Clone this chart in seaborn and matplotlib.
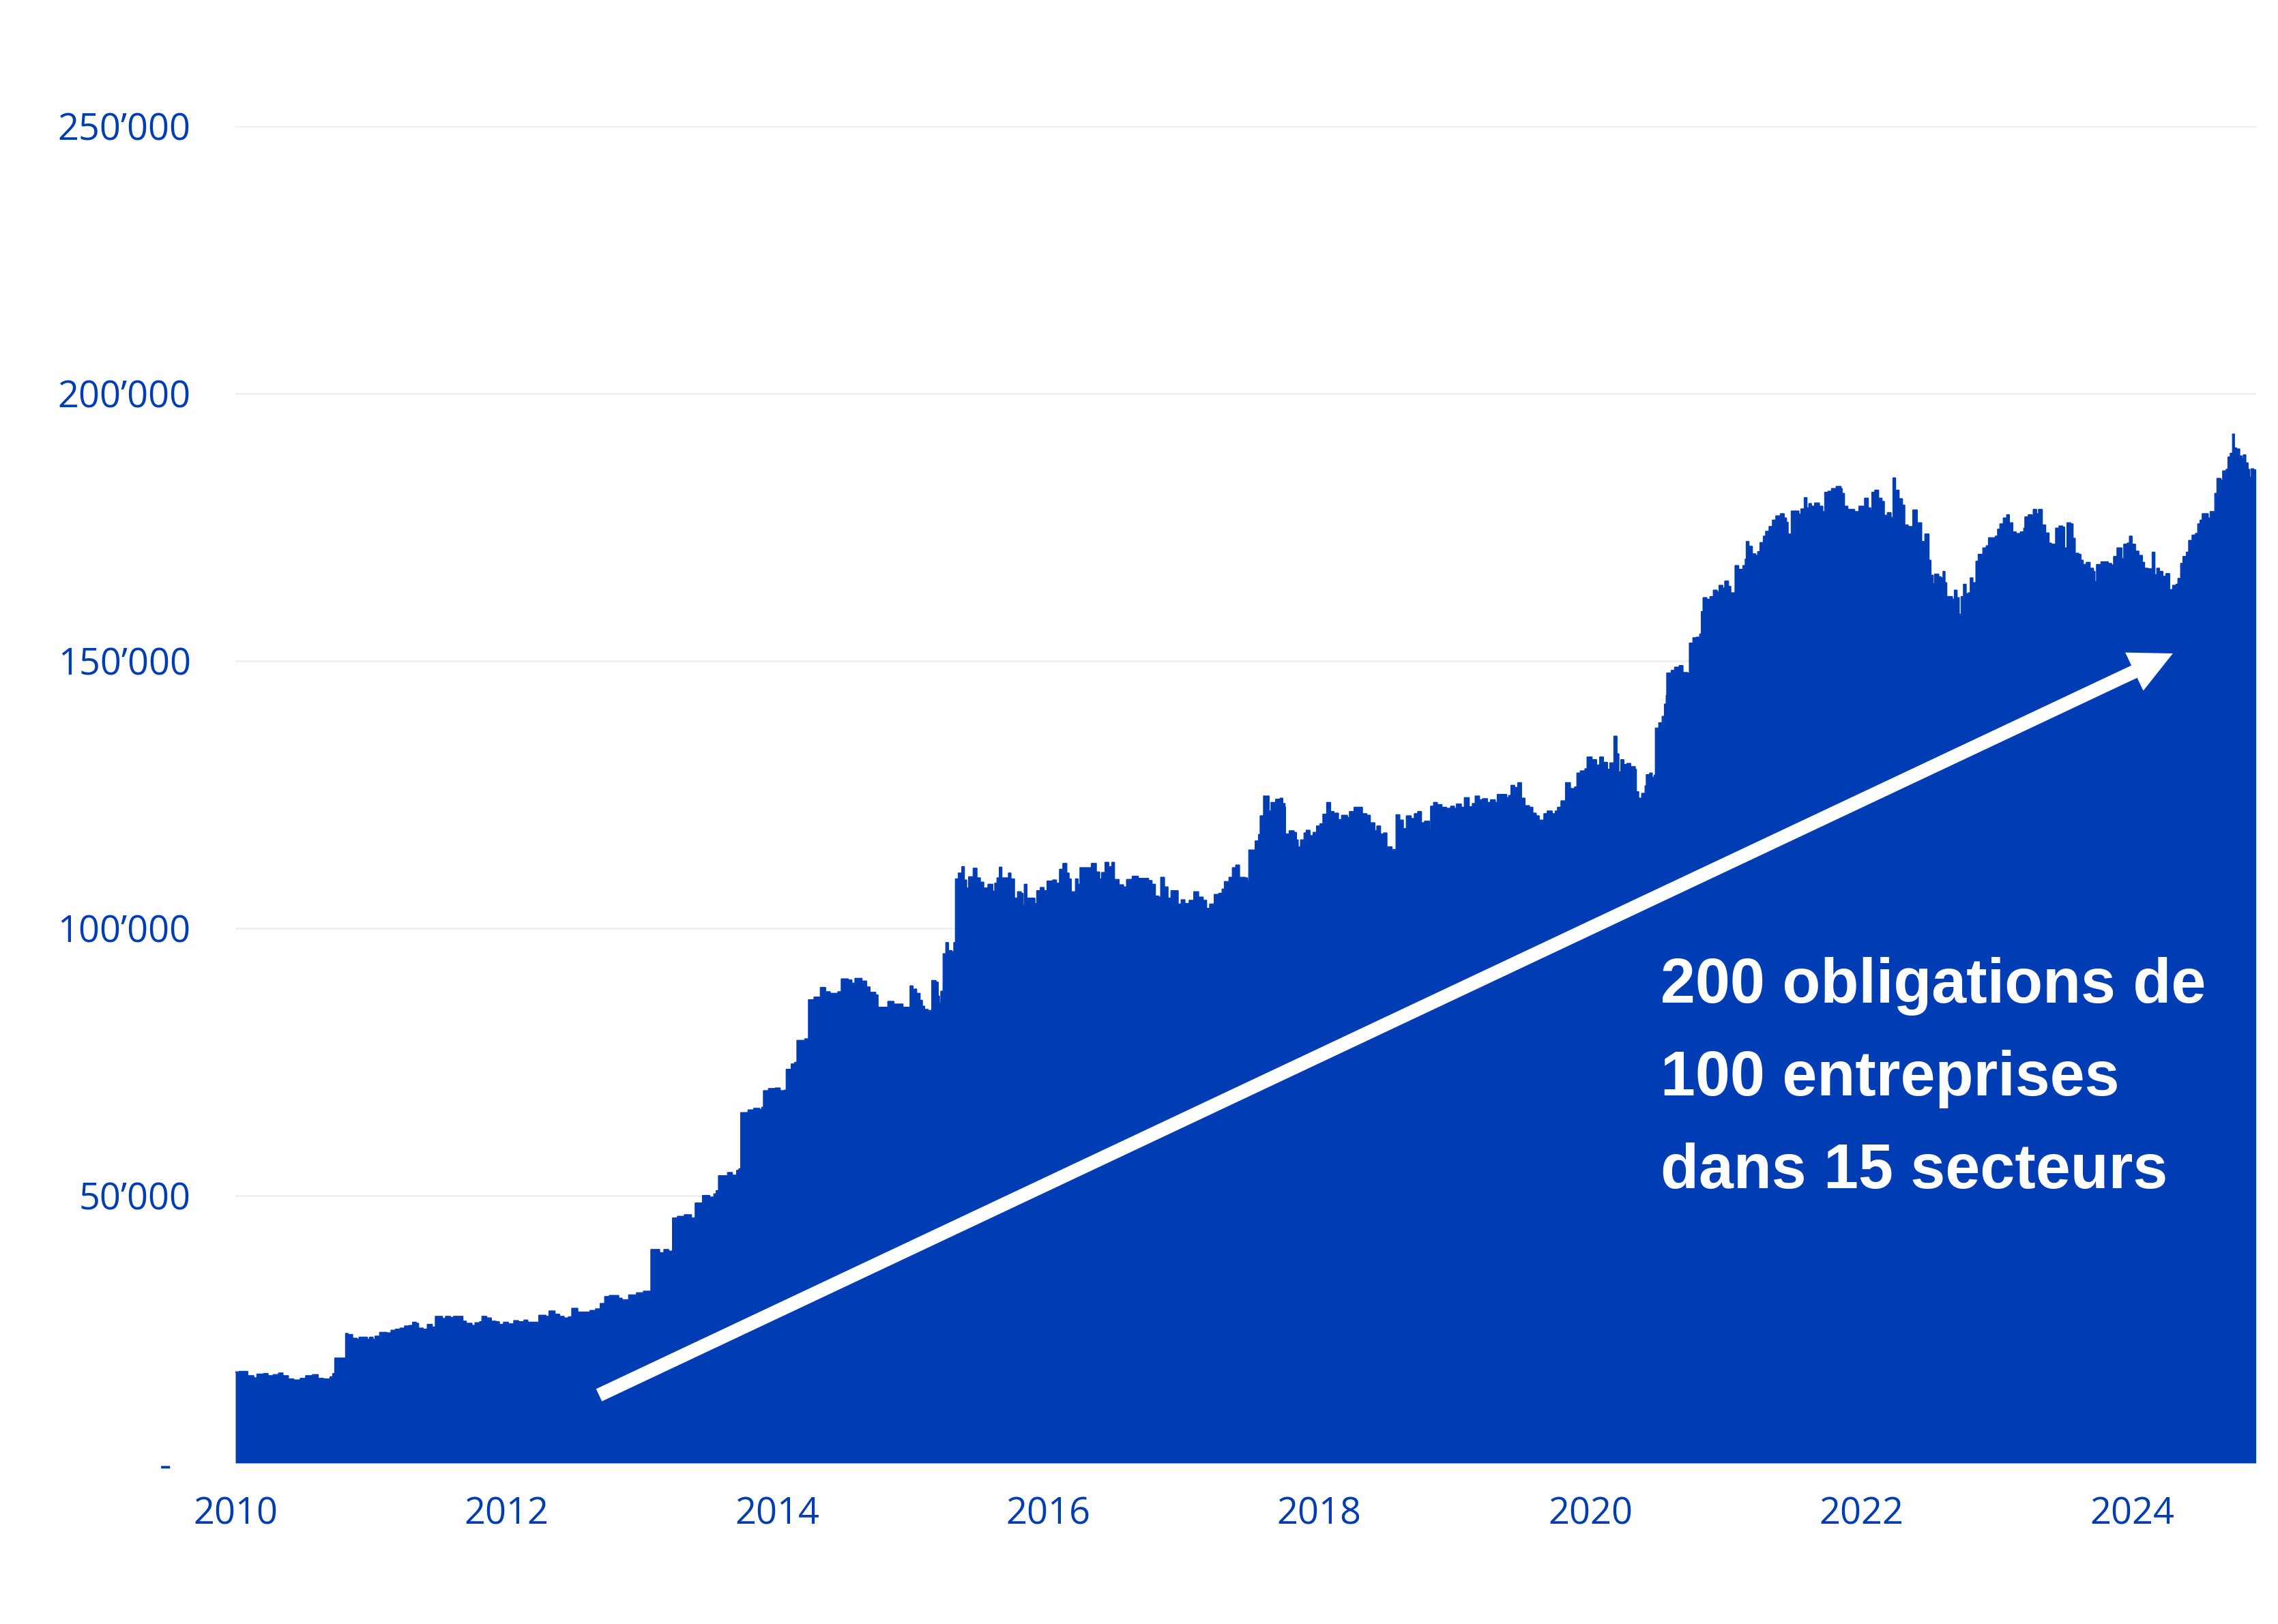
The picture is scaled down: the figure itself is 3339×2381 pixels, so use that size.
import matplotlib
matplotlib.use("Agg")
import matplotlib.pyplot as plt
import numpy as np
import pandas as pd
import seaborn as sns

# ---------------- data (year, index value) ----------------
seg_2010_2012 = [
    (2010.000, 17000), (2010.030, 17100), (2010.090, 16300), (2010.135, 15900), (2010.160, 16600),
    (2010.210, 16700), (2010.240, 16300), (2010.280, 16500), (2010.320, 16800), (2010.350, 16300),
    (2010.390, 15700), (2010.430, 15500), (2010.480, 15800), (2010.520, 16300), (2010.570, 16500),
    (2010.610, 15800), (2010.650, 15700), (2010.700, 16100), (2010.720, 16700), (2010.735, 19600),
    (2010.815, 24200), (2010.830, 24000), (2010.864, 23300), (2010.898, 23100), (2010.914, 23500),
    (2010.973, 23100), (2010.990, 23500), (2011.015, 23100), (2011.032, 23700), (2011.066, 24400),
    (2011.116, 24300), (2011.150, 24800), (2011.183, 25000), (2011.217, 25200), (2011.250, 25600),
    (2011.284, 25700), (2011.309, 26300), (2011.334, 26100), (2011.351, 25200), (2011.385, 25000),
    (2011.418, 25900), (2011.452, 25400), (2011.477, 27400), (2011.527, 27000), (2011.552, 27400),
    (2011.586, 27200), (2011.611, 27400), (2011.678, 26500), (2011.703, 26100), (2011.745, 25700),
    (2011.770, 26200), (2011.804, 26400), (2011.821, 27400), (2011.854, 27100), (2011.888, 26500),
    (2011.922, 26400), (2011.947, 25900), (2011.980, 26300), (2012.014, 26000), (2012.056, 26600),
    (2012.089, 26400), (2012.131, 26700), (2012.157, 26300), (2012.241, 27600), (2012.291, 27400),
    (2012.316, 28400), (2012.358, 27800), (2012.392, 27400), (2012.425, 27100), (2012.459, 27300),
    (2012.484, 28900), (2012.526, 28200), (2012.618, 28500), (2012.660, 28800), (2012.694, 29800),
    (2012.727, 31100), (2012.761, 31300), (2012.828, 30800), (2012.853, 30500), (2012.904, 31400),
    (2012.962, 31800),
]

seg_2013_2014 = [
    (2013.013, 32100), (2013.068, 39900), (2013.130, 39300), (2013.164, 39900), (2013.197, 39600),
    (2013.228, 45800), (2013.264, 46100), (2013.315, 46400), (2013.365, 45800), (2013.395, 48600),
    (2013.449, 50000), (2013.500, 49700), (2013.533, 50300), (2013.550, 50900), (2013.567, 53700),
    (2013.634, 54300), (2013.667, 53800), (2013.701, 54700), (2013.718, 55000), (2013.731, 65500),
    (2013.785, 66000), (2013.827, 66300), (2013.869, 66100), (2013.886, 66500), (2013.899, 69600),
    (2013.936, 70000), (2013.986, 70100), (2014.020, 69600), (2014.053, 69700), (2014.067, 73600),
    (2014.104, 74600), (2014.129, 74900), (2014.146, 79000), (2014.204, 79300), (2014.221, 78700),
    (2014.231, 86600), (2014.272, 87100), (2014.319, 88900), (2014.355, 88100), (2014.389, 87800),
    (2014.448, 88100), (2014.473, 90500), (2014.523, 90300), (2014.549, 89700), (2014.574, 90600),
    (2014.624, 90100), (2014.658, 89000), (2014.683, 88000), (2014.725, 87500), (2014.742, 85200),
    (2014.817, 86300), (2014.859, 85800), (2014.926, 85200), (2014.973, 83400), (2014.981, 89200),
]

seg_2015_2016 = [
    (2015.000, 88100), (2015.010, 88600), (2015.027, 87800), (2015.052, 86500), (2015.069, 85400),
    (2015.086, 84800), (2015.111, 84600), (2015.141, 90200), (2015.170, 89900), (2015.186, 87300),
    (2015.195, 86000), (2015.208, 88200), (2015.225, 95200), (2015.245, 97300), (2015.262, 95800),
    (2015.287, 95600), (2015.304, 97300), (2015.316, 109200), (2015.337, 110300), (2015.363, 111500),
    (2015.379, 109000), (2015.396, 107500), (2015.413, 109600), (2015.447, 111200), (2015.472, 109400),
    (2015.497, 108600), (2015.522, 107500), (2015.556, 108200), (2015.589, 106900), (2015.606, 108400),
    (2015.623, 109400), (2015.640, 111400), (2015.656, 109400), (2015.707, 110300), (2015.723, 109200),
    (2015.749, 105600), (2015.774, 106800), (2015.799, 106500), (2015.812, 104300), (2015.824, 108200),
    (2015.841, 105600), (2015.900, 104600), (2015.916, 107000), (2015.942, 107600), (2015.967, 107000),
    (2015.992, 108800), (2016.034, 109000), (2016.059, 108400), (2016.084, 111000), (2016.109, 112100),
    (2016.135, 110300), (2016.152, 109200), (2016.168, 106800), (2016.202, 109200), (2016.219, 108200),
    (2016.235, 111300), (2016.319, 112100), (2016.353, 110500), (2016.378, 109200), (2016.395, 110400),
    (2016.420, 112300), (2016.445, 111500), (2016.470, 112300), (2016.487, 109100), (2016.521, 108100),
    (2016.554, 107700), (2016.579, 109100), (2016.621, 109700), (2016.663, 109300), (2016.739, 108900),
    (2016.764, 108200), (2016.789, 106000), (2016.814, 105800), (2016.831, 109500), (2016.856, 107700),
    (2016.882, 105600), (2016.907, 107000), (2016.957, 104500), (2016.982, 105300),
]

seg_2017_2019 = [
    (2017.007, 104600), (2017.041, 105200), (2017.075, 106800), (2017.108, 105800), (2017.142, 105200),
    (2017.167, 103700), (2017.192, 104500), (2017.226, 106300), (2017.259, 106500), (2017.284, 107300),
    (2017.301, 108700), (2017.335, 109500), (2017.360, 111300), (2017.385, 111800), (2017.410, 109500),
    (2017.452, 109400), (2017.469, 108800), (2017.481, 114600), (2017.528, 116300), (2017.553, 117500),
    (2017.565, 121000), (2017.590, 124700), (2017.628, 121900), (2017.645, 123500), (2017.679, 124100),
    (2017.712, 124300), (2017.729, 123300), (2017.746, 122600), (2017.749, 117600), (2017.779, 118200),
    (2017.813, 117900), (2017.830, 116500), (2017.843, 115200), (2017.863, 116500), (2017.889, 117800),
    (2017.905, 118300), (2017.930, 117300), (2017.956, 117900), (2017.981, 119100), (2018.006, 119500),
    (2018.028, 121300), (2018.056, 123500), (2018.082, 121800), (2018.107, 120400), (2018.115, 121500),
    (2018.140, 120300), (2018.166, 121100), (2018.207, 120700), (2018.224, 121800), (2018.258, 122600),
    (2018.317, 121400), (2018.350, 121100), (2018.375, 119700), (2018.409, 118200), (2018.426, 119100),
    (2018.451, 117600), (2018.476, 117800), (2018.498, 115200), (2018.535, 114700), (2018.568, 121200),
    (2018.593, 120200), (2018.619, 118600), (2018.644, 121000), (2018.677, 120500), (2018.703, 121400),
    (2018.728, 121800), (2018.753, 119700), (2018.778, 120000), (2018.812, 118200), (2018.823, 122800),
    (2018.845, 123500), (2018.870, 123100), (2018.904, 122600), (2018.938, 122400), (2018.971, 122800),
    (2018.996, 122400), (2019.013, 123200), (2019.047, 122600), (2019.072, 124400), (2019.105, 122700),
    (2019.131, 123300), (2019.152, 124700), (2019.181, 124000), (2019.206, 124200), (2019.240, 123500),
    (2019.265, 124000), (2019.298, 123500), (2019.315, 125000), (2019.382, 124400), (2019.399, 124800),
    (2019.416, 126700), (2019.441, 126300), (2019.466, 127200), (2019.491, 124300), (2019.517, 122900),
    (2019.550, 122600), (2019.575, 121500), (2019.600, 121000), (2019.622, 120200), (2019.659, 121400),
    (2019.684, 121900), (2019.718, 121400), (2019.743, 121900), (2019.760, 122600), (2019.785, 123800),
    (2019.819, 127200), (2019.852, 126100), (2019.886, 126400), (2019.903, 129000), (2019.928, 129400),
    (2019.962, 129800), (2019.978, 132000),
]

seg_2020_2022 = [
    (2020.012, 131500), (2020.045, 130500), (2020.071, 132000), (2020.096, 131000), (2020.126, 129700),
    (2020.146, 130900), (2020.176, 135900), (2020.196, 132600), (2020.210, 129200), (2020.227, 131500),
    (2020.247, 130600), (2020.272, 130800), (2020.297, 130200), (2020.331, 129700), (2020.339, 125500),
    (2020.356, 124300), (2020.381, 125200), (2020.406, 126600), (2020.415, 128700), (2020.440, 129000),
    (2020.456, 128200), (2020.473, 128600), (2020.482, 137400), (2020.507, 138400), (2020.532, 139600),
    (2020.549, 141900), (2020.562, 143500), (2020.566, 147700), (2020.599, 148200), (2020.624, 148800),
    (2020.658, 149100), (2020.683, 147800), (2020.717, 147700), (2020.728, 146100), (2020.733, 153300),
    (2020.759, 154300), (2020.784, 154400), (2020.809, 155000), (2020.821, 159200), (2020.834, 161800),
    (2020.859, 161500), (2020.885, 162000), (2020.910, 163200), (2020.935, 162900), (2020.952, 164100),
    (2020.977, 163600), (2020.994, 164900), (2021.019, 163900), (2021.036, 162700), (2021.070, 167800),
    (2021.094, 167100), (2021.128, 167800), (2021.145, 169000), (2021.153, 172300), (2021.170, 171400),
    (2021.195, 170000), (2021.220, 169700), (2021.237, 170400), (2021.254, 172100), (2021.279, 173300),
    (2021.296, 174200), (2021.321, 175100), (2021.346, 176300), (2021.371, 177100), (2021.405, 177500),
    (2021.430, 176700), (2021.447, 175900), (2021.459, 173700), (2021.485, 178000), (2021.539, 177400),
    (2021.556, 178400), (2021.581, 180500), (2021.598, 178600), (2021.615, 179400), (2021.631, 178900),
    (2021.657, 179500), (2021.690, 178900), (2021.715, 177900), (2021.732, 181500), (2021.757, 181700),
    (2021.782, 182200), (2021.816, 182600), (2021.850, 182200), (2021.858, 181300), (2021.875, 178900),
    (2021.900, 178300), (2021.950, 177900), (2021.984, 178900), (2022.026, 180400), (2022.051, 178600),
    (2022.068, 178200), (2022.080, 181500), (2022.101, 181900), (2022.127, 180400), (2022.152, 179800),
    (2022.169, 177200), (2022.194, 177700), (2022.219, 176800), (2022.236, 184200), (2022.252, 181900),
    (2022.278, 180300), (2022.303, 179100), (2022.320, 175400), (2022.345, 175100), (2022.382, 178200),
    (2022.412, 175800), (2022.445, 172300), (2022.471, 173700), (2022.499, 168800), (2022.513, 166000),
    (2022.530, 164400), (2022.543, 166200), (2022.571, 165700), (2022.588, 165500), (2022.605, 166700),
    (2022.617, 164600), (2022.630, 162000), (2022.672, 161500), (2022.689, 163200), (2022.706, 161800),
    (2022.722, 158700), (2022.739, 162000), (2022.756, 164300), (2022.773, 162500), (2022.790, 162700),
    (2022.806, 165500), (2022.823, 164600), (2022.840, 163200), (2022.848, 168600), (2022.865, 169900),
    (2022.899, 171100), (2022.924, 171500), (2022.941, 173000), (2022.991, 173300),
]

seg_2023_2024 = [
    (2023.008, 174600), (2023.025, 175600), (2023.050, 176700), (2023.075, 177300), (2023.092, 175800),
    (2023.117, 174100), (2023.142, 173800), (2023.176, 174100), (2023.201, 174800), (2023.209, 176900),
    (2023.234, 177300), (2023.260, 176700), (2023.271, 178300), (2023.293, 177500), (2023.310, 178300),
    (2023.335, 175400), (2023.360, 173900), (2023.385, 172000), (2023.402, 171800), (2023.436, 174800),
    (2023.461, 175200), (2023.486, 175000), (2023.500, 171100), (2023.520, 175800), (2023.545, 175600),
    (2023.562, 172900), (2023.578, 170100), (2023.604, 169900), (2023.620, 168800), (2023.637, 168000),
    (2023.662, 168400), (2023.688, 167300), (2023.713, 166700), (2023.724, 164800), (2023.738, 168000),
    (2023.771, 168500), (2023.822, 168200), (2023.847, 167900), (2023.864, 169500), (2023.889, 171100),
    (2023.923, 169100), (2023.939, 171800), (2023.964, 172000), (2023.981, 173300), (2023.998, 171800),
    (2024.023, 170500), (2024.048, 169700), (2024.074, 168400), (2024.090, 167300), (2024.116, 167200),
    (2024.149, 170300), (2024.166, 166100), (2024.183, 167300), (2024.200, 166700), (2024.225, 165800),
    (2024.250, 166300), (2024.275, 163300), (2024.300, 164100), (2024.325, 164300), (2024.339, 165400),
    (2024.359, 168200), (2024.376, 169500), (2024.401, 170300), (2024.418, 172500), (2024.443, 173500),
    (2024.468, 173800), (2024.485, 175600), (2024.502, 176300), (2024.518, 177500), (2024.560, 176700),
    (2024.577, 177900), (2024.611, 181300), (2024.627, 184100), (2024.653, 183800), (2024.669, 185500),
    (2024.695, 185800), (2024.708, 188100), (2024.725, 188800), (2024.742, 192400), (2024.753, 189800),
    (2024.770, 189600), (2024.792, 188300), (2024.809, 187700), (2024.821, 188500), (2024.837, 187000),
    (2024.854, 185800), (2024.866, 184300), (2024.879, 185900), (2024.896, 185700), (2024.913, 185300),
]

x_ticks = [2010, 2012, 2014, 2016, 2018, 2020, 2022, 2024]
x_tick_labels = ["2010", "2012", "2014", "2016", "2018", "2020", "2022", "2024"]
y_ticks = [0, 50000, 100000, 150000, 200000, 250000]
y_tick_labels = ["-  ", "50\u2019000", "100\u2019000", "150\u2019000", "200\u2019000", "250\u2019000"]

annotation_text = "200 obligations de\n100 entreprises\ndans 15 secteurs"
arrow_start = (2012.684, 12700)
arrow_end = (2024.30, 151400)

# ---------------- figure ----------------
sns.set_theme(style="white")
plt.rcParams["font.family"] = ["Open Sans", "DejaVu Sans"]

BLUE = "#003DB5"
W, H = 3339, 2381
fig = plt.figure(figsize=(W / 100, H / 100), dpi=100)
ax = fig.add_axes([345 / W, 1 - 2145 / H, (3307 - 345) / W, (2145 - 185) / H])

df = pd.DataFrame(seg_2010_2012 + seg_2013_2014 + seg_2015_2016 + seg_2017_2019
                  + seg_2020_2022 + seg_2023_2024, columns=["year", "value"])

ax.fill_between(df["year"], df["value"], 0, step="post", color=BLUE, lw=0, zorder=2)
sns.lineplot(data=df, x="year", y="value", drawstyle="steps-post", color=BLUE,
             lw=1.5, ax=ax, zorder=3, legend=False)

ax.set_xlim(2010, 2024.915)
ax.set_ylim(0, 250000)
ax.set_xticks(x_ticks)
ax.set_xticklabels(x_tick_labels)
ax.set_yticks(y_ticks)
ax.set_yticklabels(y_tick_labels)
ax.tick_params(axis="both", length=0, labelsize=39, labelcolor=BLUE)
ax.tick_params(axis="x", pad=34)
ax.tick_params(axis="y", pad=47)
ax.set_xlabel("")
ax.set_ylabel("")
ax.grid(axis="y", color="#EFEFEF", lw=2)
ax.grid(axis="x", visible=False)
ax.set_axisbelow(True)
for s in ax.spines.values():
    s.set_visible(False)

ax.annotate("", xy=arrow_end, xytext=arrow_start,
            arrowprops=dict(arrowstyle="simple,head_length=45,head_width=44.6,tail_width=14.4",
                            mutation_scale=1, color="white", lw=0, shrinkA=0, shrinkB=0),
            zorder=5)

fig.text(2434 / W, 1 - 1582 / H, annotation_text, color="white", fontsize=66,
         fontweight="bold", family=["Liberation Sans", "DejaVu Sans"],
         va="center", ha="left", linespacing=1.74, zorder=6)

fig.savefig("out.png", dpi=100)
